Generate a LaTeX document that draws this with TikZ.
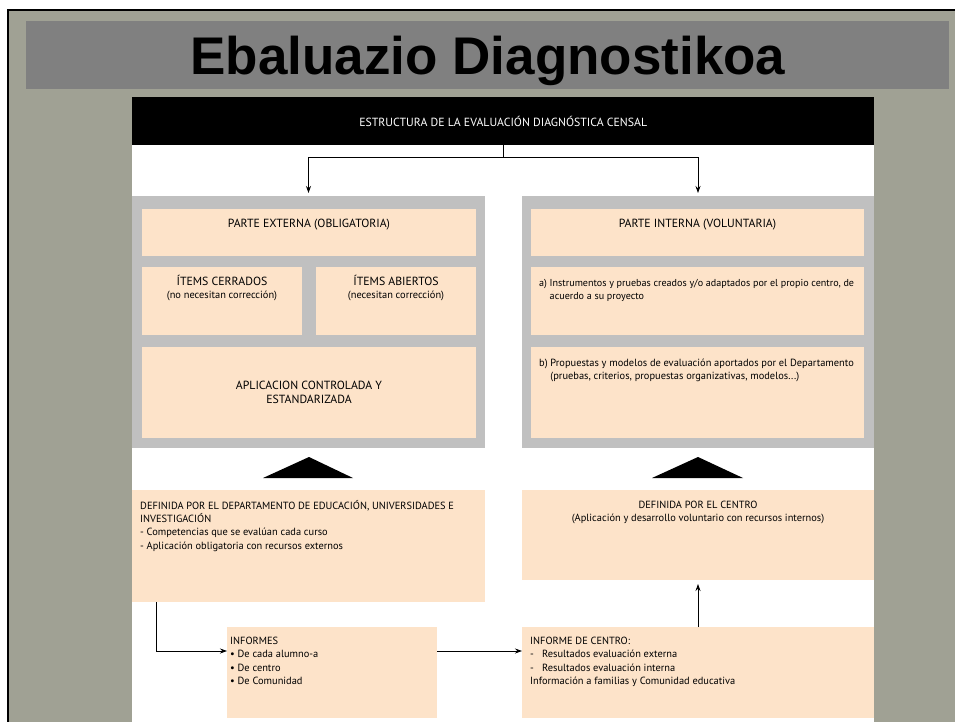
\documentclass[tikz,border=0pt]{standalone}
\usepackage{fontspec}
\setmainfont{PT Sans}
\newfontfamily\titlefont{Liberation Sans}
\usetikzlibrary{arrows.meta,positioning}

\definecolor{marble}{RGB}{160,161,148}
\definecolor{titlegray}{RGB}{128,128,128}
\definecolor{panelgray}{RGB}{192,192,192}
\definecolor{peach}{RGB}{253,227,201}

\newcommand{\bigcaps}[1]{{\fontsize{11.8}{13.3}\selectfont #1}}

\tikzset{
  box/.style={fill=peach, inner sep=0pt, outer sep=0pt, anchor=north west},
  panel/.style={fill=panelgray, inner sep=0pt, outer sep=0pt, anchor=north west},
  txt/.style={inner sep=0pt, font=\fontsize{10.4}{13.3}\selectfont, align=left},
  ctxt/.style={txt, align=center},
  arr/.style={line width=0.8pt, -{Stealth[length=7pt,width=5pt]}}
}

\begin{document}
\begin{tikzpicture}[x=1pt,y=-1pt]
\useasboundingbox (0,0) rectangle (955,722);
% slide background
\fill[marble] (8,10) rectangle (955,722);
\draw[line width=2.2pt] (8,722) -- (8,10) -- (955,10);
% title
\fill[titlegray] (26,21) rectangle (949,89);
\node[anchor=base, inner sep=0pt, font=\titlefont\bfseries\fontsize{53}{60}\selectfont] (title) at (488,75) {Ebaluazio Diagnostikoa};
% white sheet and header
\fill[white] (132,97) rectangle (874,722);
\node[anchor=north west, fill=black, minimum width=742pt, minimum height=48pt, inner sep=0pt] (hdr) at (132,97) {};
\node[text=white, font=\fontsize{11.8}{13}\selectfont, inner sep=0pt] (hdrtxt) at (hdr.center) {ESTRUCTURA DE LA EVALUACIÓN DIAGNÓSTICA CENSAL};

% gray panels
\node[panel, minimum width=353pt, minimum height=252pt] (lp) at (132,196) {};
\node[panel, minimum width=352pt, minimum height=252pt] (rp) at (522,196) {};

% parte externa
\node[box, minimum width=334pt, minimum height=47pt] (pe) at (142,209) {};
\node[box, minimum width=160pt, minimum height=68pt] (ic) at (142,267) {};
\node[box, minimum width=160pt, minimum height=68pt] (ia) at (316,267) {};
\node[box, minimum width=334pt, minimum height=91pt] (ap) at (142,347) {};
\node[ctxt, below=10pt of pe.north] (petxt) {\bigcaps{PARTE EXTERNA (OBLIGATORIA)}};
\node[ctxt, below=8pt of ic.north] (ictxt) {\bigcaps{ÍTEMS CERRADOS}\\(no necesitan corrección)};
\node[ctxt, below=8pt of ia.north] (iatxt) {\bigcaps{ÍTEMS ABIERTOS}\\(necesitan corrección)};
\node[ctxt] (aptxt) at (ap.center) {\bigcaps{APLICACION CONTROLADA Y}\\\bigcaps{ESTANDARIZADA}};

% parte interna
\node[box, minimum width=333pt, minimum height=47pt] (pi) at (531,209) {};
\node[box, minimum width=333pt, minimum height=68pt] (ra) at (531,267) {};
\node[box, minimum width=333pt, minimum height=91pt] (rb) at (531,347) {};
\node[ctxt, below=10pt of pi.north] (pitxt) {\bigcaps{PARTE INTERNA (VOLUNTARIA)}};
\node[txt, font=\fontsize{10.1}{13.3}\selectfont, below right=12pt and 8pt of ra.north west] (ratxt) {a) Instrumentos y pruebas creados y/o adaptados por el propio centro, de\\\phantom{a) }acuerdo a su proyecto};
\node[txt, below right=12pt and 8pt of rb.north west] (rbtxt) {b) Propuestas y modelos de evaluación aportados por el Departamento\\\phantom{b) }(pruebas, criterios, propuestas organizativas, modelos...)};

% triangles
\fill (309,457) -- (353,478) -- (263,478) -- cycle;
\fill (698,457) -- (743,478) -- (652,478) -- cycle;

% definida
\node[box, minimum width=353pt, minimum height=112pt] (dl) at (132,490) {};
\node[txt, below right=10pt and 8pt of dl.north west] (dltxt) {DEFINIDA POR EL DEPARTAMENTO DE EDUCACIÓN, UNIVERSIDADES E\\INVESTIGACIÓN\\- Competencias que se evalúan cada curso\\- Aplicación obligatoria con recursos externos};
\node[box, minimum width=352pt, minimum height=90pt] (dr) at (522,490) {};
\node[ctxt, below=11pt of dr.north] (drtxt) {DEFINIDA POR EL CENTRO\\(Aplicación y desarrollo voluntario con recursos internos)};

% informes
\node[box, minimum width=210pt, minimum height=91pt] (inf) at (227,627) {};
\node[txt, below right=10pt and 3pt of inf.north west] (inftxt) {INFORMES\\\textbullet\ De cada alumno-a\\\textbullet\ De centro\\\textbullet\ De Comunidad};
\node[box, minimum width=352pt, minimum height=91pt] (icc) at (522,627) {};
\node[txt, below right=10pt and 8pt of icc.north west] (icctxt) {INFORME DE CENTRO:\\\makebox[12pt][l]{-}Resultados evaluación externa\\\makebox[12pt][l]{-}Resultados evaluación interna\\Información a familias y Comunidad educativa};

% connectors
\coordinate (split) at ([yshift=-12pt]hdr.south);
\draw[line width=0.8pt] (hdr.south) -- (split);
\draw[arr, shorten >=3pt] (split) -| (lp.north);
\draw[arr, shorten >=3pt] (split) -| (rp.north);
\draw[arr] ([xshift=24pt]dl.south west) |- ([yshift=21.5pt]inf.west);
\draw[arr] ([yshift=21.5pt]inf.east) -- ([yshift=21.5pt]icc.west);
\draw[arr, shorten >=4pt] (icc.north) -- (dr.south);
\end{tikzpicture}
\end{document}
